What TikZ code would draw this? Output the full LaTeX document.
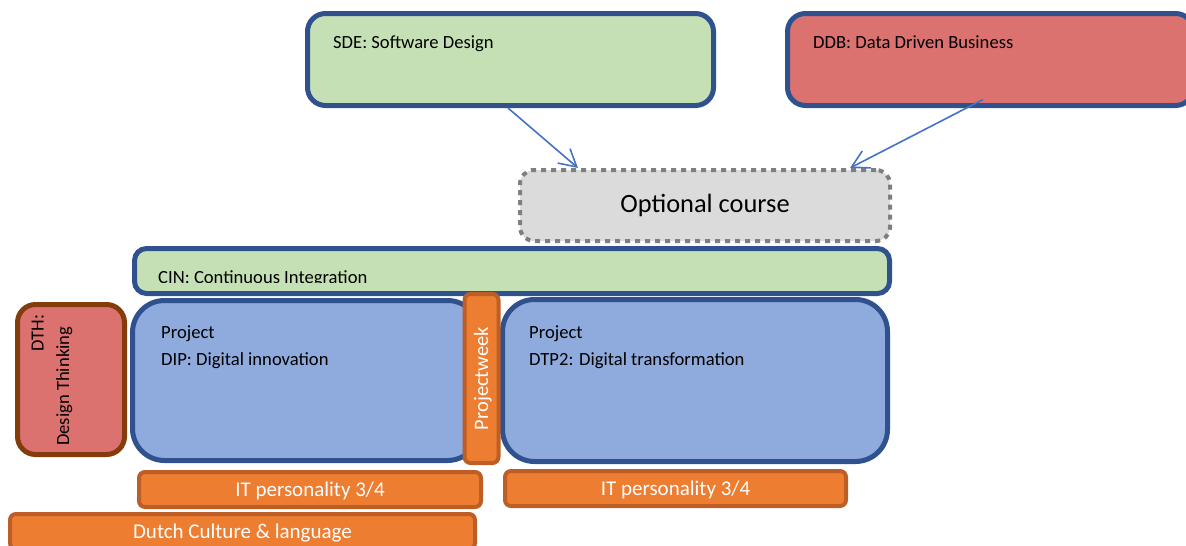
\documentclass[tikz,border=0pt]{standalone}
\usepackage{fontspec}
\setmainfont{Carlito}
\usetikzlibrary{arrows.meta}

\definecolor{navyline}{HTML}{2F528F}
\definecolor{sagefill}{HTML}{C5E0B4}
\definecolor{rosefill}{HTML}{DB7270}
\definecolor{brownline}{HTML}{843C0C}
\definecolor{skyfill}{HTML}{8FAADC}
\definecolor{orangefill}{HTML}{ED7D31}
\definecolor{rustline}{HTML}{BC5E25}
\definecolor{greyfill}{HTML}{DBDBDB}
\definecolor{dotline}{HTML}{7F7F7F}
\definecolor{arrowblue}{HTML}{4472C4}

\tikzset{
	course/.style={draw=navyline, line width=5pt, rounded corners=18pt, inner sep=0pt, outer sep=0pt},
	project/.style={course, fill=skyfill, rounded corners=32pt},
	bar/.style={draw=rustline, fill=orangefill, line width=4pt, rounded corners=6pt, text=white, font=\fontsize{21}{25}\selectfont,
		text height=13.5pt, text depth=0pt, inner sep=0pt, outer sep=0pt},
	txt/.style={anchor=base west, inner sep=0pt, font=\fontsize{18.6}{22}\selectfont},
	pointer/.style={draw=arrowblue, line width=1.6pt, -{Straight Barb[length=17pt,width=19pt]}}
}

\begin{document}
\begin{tikzpicture}[x=1pt, y=-1pt]
			%%%%% START %%%%%
			\useasboundingbox (0, 0) rectangle (1186, 546);
			\clip (0, 0) rectangle (1186, 546);
			
			% electives
			\node[course, fill=sagefill, minimum width=406pt, minimum height=92pt] (sde) at (510.5, 59.5) {};
			\node[txt] (sdetext) at (333, 48) {SDE: Software Design};
			
			\node[course, fill=rosefill, minimum width=406pt, minimum height=92pt] (ddb) at (990.5, 59.5) {};
			\node[txt] (ddbtext) at (813, 48) {DDB: Data Driven Business};
			
			\node[draw=dotline, fill=greyfill, line width=4pt, dash pattern=on 5pt off 5pt, rounded corners=14pt,
				minimum width=370pt, minimum height=71pt, font=\fontsize{26.4}{30}\selectfont] (opt) at (705, 205.5) {Optional course};
			
			\draw[pointer] ([xshift=-2.5pt, yshift=-2.5pt]sde.south) -- ([xshift=60pt]opt.north west);
			\draw[pointer] ([xshift=-7.5pt, yshift=6pt]ddb.south) -- ([xshift=-42pt]opt.north east);
			
			% continuous integration, text cut off at the bottom
			\node[course, fill=sagefill, rounded corners=12pt, minimum width=755pt, minimum height=45pt] (cin) at (512, 271) {};
			\begin{scope}
				\clip (cin.north west) rectangle ([yshift=11.5pt]cin.south east);
				\node[txt] (cintext) at (158, 283.5) {CIN: Continuous Integration};
			\end{scope}
			
			% design thinking
			\node[course, draw=brownline, fill=rosefill, minimum width=107pt, minimum height=150pt] (dth) at (71, 379.5) {};
			\node[txt, rotate=90] (dthcode) at (43.5, 352) {DTH:};
			\node[txt, rotate=90] (dthname) at (69, 446) {Design Thinking};
			
			% projects
			\node[project, minimum width=347pt, minimum height=160pt] (dip) at (306, 380.5) {};
			\node[txt] (dipa) at (161, 338) {Project};
			\node[txt] (dipb) at (161, 365) {DIP: Digital innovation};
			
			\node[project, minimum width=385pt, minimum height=162pt] (dtp) at (695, 380.5) {};
			\node[txt] (dtpa) at (529, 338) {Project};
			\node[txt] (dtpb) at (529, 365) {DTP2: Digital transformation};
			
			\node[bar, rotate=90, minimum width=169pt, minimum height=34pt, font=\fontsize{20.5}{24}\selectfont,
				text height=13.2pt] (pweek) at (481.5, 378.5) {Projectweek};
			
			% orange bars
			\node[bar, minimum width=342pt, minimum height=35pt] (itleft) at (310, 489.5) {IT personality 3/4};
			\node[bar, minimum width=341pt, minimum height=35pt] (itright) at (675.5, 488.5) {IT personality 3/4};
			\node[bar, minimum width=465pt, minimum height=35pt] (dutch) at (242.5, 531.5) {Dutch Culture \& language};
			
			%%%%% END %%%%%
\end{tikzpicture}
\end{document}
